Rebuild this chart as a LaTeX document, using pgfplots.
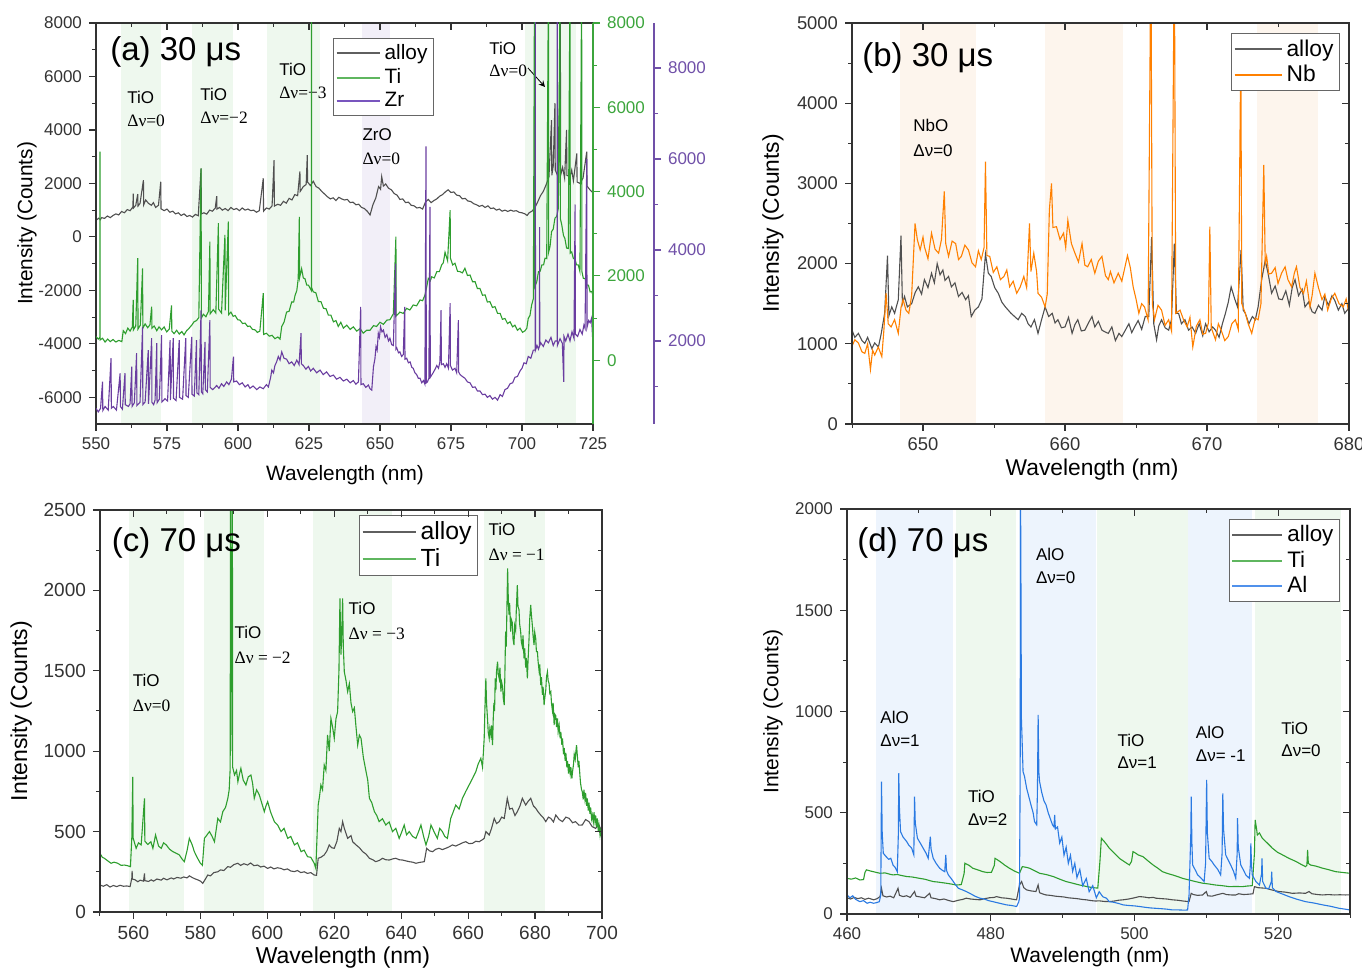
\documentclass[border=0pt]{standalone}
\usepackage{fontspec}
\setmainfont{Liberation Sans}
\newfontfamily\seriffont{Liberation Serif}
\usepackage{pgfplots}
\pgfplotsset{compat=1.18}

\definecolor{alloyc}{RGB}{80,80,80}
\definecolor{legal0}{RGB}{95,95,95}
\definecolor{tic}{RGB}{46,158,46}
\definecolor{legti}{RGB}{95,182,95}
\definecolor{zrc}{RGB}{106,61,160}
\definecolor{legzr}{RGB}{120,85,190}
\definecolor{nbc}{RGB}{255,128,0}
\definecolor{alc}{RGB}{42,122,226}
\definecolor{legal}{RGB}{80,145,235}
\definecolor{bandg}{RGB}{238,248,238}
\definecolor{bandp}{RGB}{242,239,248}
\definecolor{bando}{RGB}{253,245,237}
\definecolor{bandb}{RGB}{237,244,253}
\definecolor{axc}{RGB}{50,50,50}
\definecolor{gax}{RGB}{60,165,60}
\definecolor{pax}{RGB}{112,80,168}

\pgfplotsset{
  panel/.style={
    scale only axis, axis on top, clip=true, anchor=south west,
    tick align=outside, xtick pos=left, ytick pos=left,
    major tick length=3.5pt, minor tick length=2pt,
    axis line style={axc, line width=0.6pt},
    every tick/.append style={axc, line width=0.6pt},
    every minor tick/.append style={axc, line width=0.5pt},
    scaled ticks=false,
    /pgf/number format/assume math mode=true,
    /pgf/number format/1000 sep={},
    tick label style={text=black!80},
    legend cell align=left,
    legend style={draw=black!60, line width=0.6pt, fill=white, inner sep=1pt, row sep=-1pt},
  },
  raxis/.style={
    scale only axis, clip=false, anchor=south west,
    axis x line=none, axis y line*=right, ytick pos=right, yticklabel pos=right,
    tick align=outside, major tick length=3.5pt, minor tick length=2pt,
    scaled ticks=false,
    /pgf/number format/assume math mode=true,
    /pgf/number format/1000 sep={},
    y axis line style={#1, line width=0.8pt},
    every tick/.append style={#1, line width=0.6pt},
    every minor tick/.append style={#1, line width=0.5pt},
    yticklabel style={text=#1, font=\fontsize{8.5}{10}\selectfont},
  },
  mirror/.style={
    scale only axis, anchor=south west, tick align=inside, xtick pos=right, ytick pos=right,
    xticklabels={}, yticklabels={}, major tick length=3.5pt, minor tick length=2pt,
    axis line style={draw=none},
    every tick/.append style={axc, line width=0.6pt},
    every minor tick/.append style={axc, line width=0.5pt},
  },
  posA/.style={at={(48pt,272.5pt)}, width=248.5pt, height=200.5pt, xmin=550, xmax=725},
  posB/.style={at={(426pt,272.5pt)}, width=248.5pt, height=200.5pt, xmin=645, xmax=680, ymin=0, ymax=5000},
  posC/.style={at={(50pt,28.5pt)}, width=251pt, height=201pt, xmin=550, xmax=700, ymin=0, ymax=2500},
  posD/.style={at={(423.5pt,27.5pt)}, width=251.5pt, height=202.5pt, xmin=460, xmax=530, ymin=0, ymax=2000},
  dat/.style={line width=0.55pt},
  lim/.style={legend image code/.code={\draw[##1, line width=1pt] (0pt,0pt) -- (#1,0pt);}},
}
\newcommand{\ttl}[2]{\node[anchor=west, inner sep=0pt, font=\fontsize{16.5}{19}\selectfont] at (rel axis cs:#1) {#2};}
\newcommand{\anS}[4]{\node[anchor=west, inner sep=0pt, font=\fontsize{8.5}{10}\selectfont] at (axis cs:#1,#2) {#4};}
\newcommand{\anR}[4]{\node[anchor=west, inner sep=0pt, font=\fontsize{8.7}{10}\seriffont] at (axis cs:#1,#2) {#4};}

\begin{document}
\begin{tikzpicture}
\useasboundingbox (0,0) rectangle (681pt,484.5pt);

%================ (a) =================
\begin{axis}[panel, posA, ymin=-7000, ymax=8000,
  xtick={550,575,...,725}, minor xtick={562.5,587.5,...,712.5},
  ytick={-6000,-4000,...,8000}, minor ytick={-5000,-3000,...,7000},
  tick label style={font=\fontsize{8.5}{10}\selectfont},
  label style={font=\fontsize{10.4}{12}\selectfont},
  xlabel={Wavelength (nm)}, ylabel={Intensity (Counts)},
  xlabel style={at={(axis description cs:0.501,-0.127)}, anchor=center},
  ylabel style={at={(axis description cs:-0.139,0.5)}, anchor=center}]
\fill[bandg] (axis cs:558.8,-7000) rectangle (axis cs:573,8000);
\fill[bandg] (axis cs:583.7,-7000) rectangle (axis cs:598.3,8000);
\fill[bandg] (axis cs:610.3,-7000) rectangle (axis cs:629,8000);
\fill[bandp] (axis cs:643.6,-7000) rectangle (axis cs:653.6,8000);
\fill[bandg] (axis cs:701.2,-7000) rectangle (axis cs:719,8000);
\addplot[dat, alloyc] coordinates {(550,620) (551,700) (551.5,640) (552,720) (553,690) (554,780) (555,720) (556,800) (557,860) (558,820) (559,950) (560,900) (561,1020) (562,980) (563,1120) (563.1,1620) (563.2,1080) (564,1180) (564.7,1600) (564.8,1150) (565.5,1250) (566.7,2120) (566.8,1200) (567.5,1380) (568.5,1250) (569.5,1180) (570.2,1280) (571,1100) (572,1180) (572.8,2060) (572.9,1050) (574,980) (575,1040) (576,920) (577,960) (578,860) (579,900) (580,800) (581,860) (582,760) (583,800) (584,740) (585,840) (586,790) (587,2560) (587.1,860) (588,900) (589,850) (590,1000) (591,960) (592,1080) (592.5,1520) (592.6,1040) (593.5,1100) (594.5,1000) (595.5,1060) (596.5,980) (597.5,1100) (598.5,1020) (599.5,1060) (600.5,980) (601.5,1080) (602.5,1000) (603.5,1040) (604.5,980) (605.5,1000) (606.5,920) (607.5,980) (608.9,2190) (609,960) (610,1080) (611,1040) (612,1160) (612.7,2870) (612.8,1150) (614,1220) (615,1180) (616,1330) (617,1260) (618,1440) (619,1380) (620,1580) (621,1540) (621.8,2450) (621.9,1700) (623,1880) (624,1960) (624.4,3060) (624.5,2050) (625.5,1920) (626.5,2080) (627.5,1880) (628.5,1820) (629.5,1700) (630.5,1600) (631.5,1500) (632.5,1420) (633.5,1460) (634.5,1360) (635.5,1480) (636.5,1420) (637.5,1380) (638.5,1400) (639.5,1280) (640.5,1300) (641.5,1200) (642.5,1220) (643.5,1100) (644.5,1060) (645.5,960) (646.5,820) (647.5,1200) (648.5,1450) (649.5,1880) (650.2,1780) (650.6,2250) (651.2,1900) (652,1980) (653,1820) (654,1760) (655,1620) (656,1560) (657,1400) (658,1420) (659,1280) (660,1300) (661,1180) (662,1160) (663,1080) (664,1100) (665,1040) (666,1300) (667,1400) (668,1280) (669,1360) (670,1420) (671,1520) (672,1580) (673,1680) (674,1760) (675,1660) (676,1680) (677,1560) (678,1540) (679,1420) (680,1440) (681,1340) (682,1320) (683,1240) (684,1200) (685,1140) (686,1180) (687,1100) (688,1160) (689,1060) (690,1080) (691,1000) (692,1040) (693,960) (694,1000) (695,950) (696,1000) (697,960) (698,980) (699,920) (700,900) (701,860) (701.8,800) (702.5,900) (703.5,960) (704.5,1080) (705.5,1300) (706.5,1540) (707.5,1700) (708.5,1950) (709.5,2250) (710.4,4370) (710.5,2300) (711,2650) (711.6,5000) (711.7,2500) (712.5,2300) (712.8,4120) (712.9,2450) (713.5,8500) (713.6,2300) (714.3,2600) (715,2200) (715.7,4000) (715.8,2300) (716.9,2250) (717.5,2500) (718.1,2100) (719.3,3120) (719.4,2050) (720.4,2000) (721.5,2200) (722.8,3190) (722.9,1900) (724,1750) (725,1650)};
\ttl{0.028,0.928}{(a) 30 μs}
\anS{560.9}{5232}{}{TiO} \anR{560.9}{4334}{}{Δν=0}
\anS{586.6}{5344}{}{TiO} \anR{586.6}{4446}{}{Δν=−2}
\anS{614.4}{6279}{}{TiO} \anR{614.4}{5381}{}{Δν=−3}
\anS{643.7}{3810}{}{ZrO} \anR{643.7}{2912}{}{Δν=0}
\anS{688.4}{7065}{}{TiO} \anR{688.4}{6204}{}{Δν=0}
\draw[-stealth, line width=0.4pt] (axis cs:702.1,6317) -- (axis cs:708.1,5606);
\end{axis}
\begin{axis}[mirror, posA, ymin=-7000, ymax=8000, xtick={550,575,...,725}, minor xtick={562.5,587.5,...,712.5}, ytick=\empty]
\end{axis}
% green data
\begin{axis}[scale only axis, anchor=south west, posA, ymin=-1514, ymax=8000, hide axis, clip=true]
\addplot[dat, tic] coordinates {(550,560) (550.8,500) (551.35,540) (551.4,4950) (551.45,480) (552.3,520) (553.2,430) (554.1,500) (555,440) (556,490) (557,430) (558,470) (559.1,440) (559.6,700) (560.4,630) (561.2,760) (562,690) (562.8,790) (563.1,1430) (563.2,720) (564,810) (564.7,2420) (564.8,740) (565.6,830) (566.4,2180) (566.5,760) (567.3,860) (568.2,770) (569,840) (569.6,1270) (569.7,760) (570.5,810) (571.4,700) (572.2,790) (573.1,720) (574,790) (574.9,670) (575.8,740) (576.6,1300) (576.7,690) (577.5,630) (578.4,710) (579.3,620) (580.2,680) (581,600) (581.9,700) (582.8,760) (583.7,830) (584.5,910) (585.4,940) (586.2,1010) (587,4550) (587.1,1000) (587.8,1090) (588.7,1030) (589.6,1160) (590.1,2810) (590.2,1100) (591.3,1200) (592.2,1120) (593.1,3250) (593.2,1210) (594.2,1120) (595.4,2970) (595.5,1180) (596.6,3290) (596.7,1080) (597.5,1140) (598.3,1040) (599,1060) (599.9,960) (600.7,950) (601.6,870) (602.5,880) (603.4,800) (604.2,810) (605.1,730) (606,720) (606.8,660) (607.7,690) (608.9,1590) (609,610) (610,640) (611,570) (612,590) (613,510) (614,550) (614.8,500) (615.4,800) (616.2,900) (617.1,1140) (618,1160) (618.9,1380) (619.6,1380) (620.1,1540) (620.7,1650) (621.2,1930) (621.6,3400) (621.7,1960) (622.4,2170) (623,1950) (623.6,1930) (624.2,1780) (624.8,1780) (625.85,1650) (625.9,9000) (625.95,1720) (626.5,1620) (627.4,1600) (628.3,1390) (629.2,1390) (630.1,1230) (631,1220) (631.8,1070) (632.7,1070) (633.6,910) (634.5,940) (635.3,800) (636.2,900) (637.1,760) (638.3,830) (639.5,730) (640.6,790) (641.8,690) (643,750) (644.1,640) (645.3,710) (646.5,710) (647.7,820) (648.8,800) (650,900) (651.2,850) (652.4,950) (653.5,960) (654.7,1100) (655.6,2930) (655.7,1050) (657,1140) (658.2,1110) (659.4,1230) (660.5,1190) (661.7,1310) (662.9,1290) (664.1,1430) (665,1410) (665.8,1540) (666.4,1720) (667,1940) (667.7,1880) (668.2,1980) (669.1,1950) (670,2100) (670.9,2100) (671.7,2260) (672.3,2310) (672.9,2560) (673.8,2360) (674.7,3560) (674.8,2420) (675.6,2260) (676.4,2300) (677.3,2110) (678.2,2100) (679,2070) (679.9,2180) (680.8,2010) (681.7,2020) (682.6,1860) (683.5,1860) (684.3,1700) (685.2,1700) (686.1,1540) (687,1550) (687.8,1380) (688.7,1390) (689.6,1250) (690.5,1270) (691.4,1110) (692.3,1110) (693.1,970) (694,990) (694.9,870) (695.8,910) (696.7,790) (697.5,830) (698.4,710) (699.3,760) (700.2,660) (701.1,700) (701.7,760) (702.2,990) (702.8,1060) (703.4,1310) (704,1460) (704.4,9000) (704.5,1740) (705.2,1860) (705.8,2100) (706.4,2110) (707,2260) (707.6,2260) (708.1,2420) (708.7,2410) (709.3,9000) (709.4,2570) (709.9,2710) (710.4,3050) (711,3110) (711.6,3370) (712.2,3410) (712.8,3600) (713.4,9000) (713.5,3360) (714,3210) (714.6,2960) (715.1,2890) (715.7,2660) (716.3,2650) (716.9,9000) (717,2540) (717.5,2570) (718.1,2410) (718.6,2420) (719.2,2260) (719.8,2260) (720.4,2100) (721,9000) (721.1,2100) (721.6,1940) (722.2,1940) (722.8,1780) (723.4,1780) (724,1620) (724.5,1630) (725,1550)};
\end{axis}
% purple data + legend
\begin{axis}[panel, posA, ymin=175, ymax=8990, hide axis, lim=21.5pt,
  legend style={at={(0.477,0.963)}, anchor=north west, font=\fontsize{10.4}{12}\selectfont}]
\addplot[dat, zrc, forget plot] coordinates {(550,520) (550.8,440) (551.6,520) (552.3,1105) (552.4,470) (553.2,560) (554.3,480) (555.3,1620) (555.4,520) (556.1,560) (557.2,480) (558.5,1290) (558.6,560) (559.3,500) (560.2,1290) (560.3,600) (561.4,560) (562,620) (562.6,1435) (562.7,560) (563.5,640) (564.3,1730) (564.4,580) (565.5,650) (566.4,2310) (566.5,600) (567.3,660) (568.4,1800) (568.5,620) (569.6,2060) (569.7,650) (570.3,600) (570.8,700) (571.4,1950) (571.5,640) (572.3,720) (573.1,2130) (573.2,660) (574.3,730) (575.2,680) (576.1,2020) (576.2,700) (577.2,2060) (577.3,740) (578.2,690) (579.3,2020) (579.4,760) (580.5,720) (581.6,2060) (581.7,800) (582.5,760) (583.7,2090) (583.8,830) (584.6,790) (585.4,2020) (585.5,860) (586.2,820) (587,2680) (587.1,880) (587.6,840) (588.4,1980) (588.5,930) (589.2,880) (590.1,2460) (590.2,980) (591.1,930) (592.5,1020) (593.3,960) (594.2,1060) (595,1000) (596,1100) (596.8,1040) (597.7,1160) (598.4,1655) (598.5,1100) (599.5,1120) (600.5,1040) (601.5,1080) (602.5,990) (603.5,1040) (604.2,960) (605.3,1010) (606.6,930) (607.7,990) (608.9,950) (610,1040) (610.7,990) (611.5,1200) (611.9,1360) (612.5,1300) (613,1460) (613.6,1540) (614.2,1660) (614.8,1580) (615.4,1760) (616.2,1620) (617.1,1600) (618,1500) (618.9,1540) (619.8,1460) (620.7,1580) (621.5,1480) (622.2,2170) (622.3,1500) (623,1460) (623.9,1380) (624.8,1440) (625.6,1340) (626.5,1400) (627.7,1300) (628.9,1360) (630,1260) (631.2,1320) (632.4,1220) (633.6,1250) (634.7,1160) (635.9,1200) (637.1,1120) (638.3,1160) (639.5,1080) (640.6,1130) (641.5,1050) (642.4,1100) (643.2,2750) (643.3,1040) (644.1,1060) (645,980) (645.9,1030) (646.5,950) (647.1,920) (647.7,1435) (648.2,1600) (648.6,1875) (649,1800) (649.4,2170) (649.8,2080) (650.2,2310) (650.7,2200) (651.2,2240) (651.8,2080) (652.4,2140) (653,2000) (653.5,2060) (654.1,1920) (654.7,1900) (655.5,3700) (655.6,1820) (655.9,1850) (656.5,1740) (657,1760) (657.6,1660) (658.2,1700) (658.7,2750) (658.8,1600) (659.4,1620) (660,1520) (660.6,1540) (661.2,1420) (661.7,1400) (662.3,1300) (662.9,1260) (663.5,1180) (664.1,1180) (664.7,1080) (665.3,1130) (665.8,1050) (666.2,6280) (666.3,1080) (666.7,1100) (667.2,1180) (667.6,4950) (667.7,1200) (668.2,1250) (668.8,1310) (669.4,1380) (670,1460) (670.6,1400) (671.1,1540) (671.5,2680) (671.6,1480) (672.3,1500) (672.9,1420) (673.5,1500) (674.1,1400) (674.7,2830) (674.8,1460) (675.5,1360) (676.4,1400) (677,1300) (677.6,2460) (677.7,1320) (678.2,1260) (679,1220) (679.9,1180) (680.8,1100) (681.7,1080) (682.6,980) (683.5,990) (684.3,900) (685.2,900) (686.1,820) (687,830) (687.8,760) (688.7,800) (689.6,720) (690.5,760) (691.4,700) (692.3,820) (693.1,780) (694,930) (694.9,960) (695.8,1060) (696.7,1080) (697.5,1200) (698.4,1220) (699.3,1340) (700,1400) (700.7,1520) (701.5,1500) (702.2,1660) (703.1,1620) (704,1800) (704.65,1800) (704.7,9500) (704.75,1800) (705.3,1900) (705.8,1820) (706.15,1900) (706.2,4500) (706.25,1900) (706.6,1960) (707.5,1880) (708.4,2020) (709.3,1960) (710.2,2080) (711,1900) (711.7,2000) (712.35,2000) (712.4,9500) (712.45,1900) (713.4,2050) (714.2,1950) (714.7,1100) (714.8,2100) (715.4,2000) (716.2,2150) (716.9,2000) (717.6,2200) (718.3,2060) (718.7,5000) (718.8,2150) (719.6,2100) (720.4,2250) (721.2,2150) (721.8,2350) (722.2,2280) (722.8,6000) (722.9,2300) (723.5,2450) (724,2400) (724.5,2500) (725,1900)};
\addlegendimage{legal0}\addlegendentry{alloy}
\addlegendimage{legti}\addlegendentry{Ti}
\addlegendimage{legzr}\addlegendentry{Zr}
\end{axis}
% green axis (right edge)
\begin{axis}[raxis=gax, posA, ymin=-1514, ymax=8000,
  ytick={0,2000,...,8000}, minor ytick={1000,3000,5000,7000}]
\end{axis}
% purple axis (offset)
\begin{axis}[raxis=pax, at={(78.5pt,272.5pt)}, width=248.5pt, height=200.5pt, xmin=550, xmax=725,
  ymin=175, ymax=8990,
  ytick={2000,4000,6000,8000}, minor ytick={1000,3000,5000,7000,9000}]
\end{axis}

%================ (b) =================
\begin{axis}[panel, posB, lim=23.5pt,
  xtick={650,660,670,680}, minor xtick={645,655,665,675},
  ytick={0,1000,...,5000}, minor ytick={500,1500,...,4500},
  tick label style={font=\fontsize{9.2}{11}\selectfont},
  label style={font=\fontsize{11.4}{13}\selectfont},
  xlabel={Wavelength (nm)}, ylabel={Intensity (Counts)},
  xlabel style={at={(axis description cs:0.483,-0.115)}, anchor=center},
  ylabel style={at={(axis description cs:-0.159,0.5)}, anchor=center},
  legend style={at={(0.982,0.975)}, anchor=north east, font=\fontsize{11.4}{13}\selectfont}]
\fill[bando] (axis cs:648.4,0) rectangle (axis cs:653.7,5000);
\fill[bando] (axis cs:658.6,0) rectangle (axis cs:664.1,5000);
\fill[bando] (axis cs:673.5,0) rectangle (axis cs:677.8,5000);
\addplot[dat, alloyc, forget plot] coordinates {(645,1170) (645.2,1080) (645.45,1130) (645.7,1040) (645.9,1005) (646.1,1080) (646.4,940) (646.6,1010) (646.86,960) (647.05,1120) (647.3,1380) (647.5,2100) (647.6,1350) (647.8,1460) (648,1380) (648.26,1550) (648.45,2350) (648.55,1500) (648.7,1590) (648.9,1460) (649.2,1500) (649.45,1640) (649.67,1710) (649.9,1620) (650.1,1800) (650.35,1700) (650.6,1880) (650.8,1760) (651,2000) (651.2,1860) (651.4,1920) (651.55,1790) (651.8,1840) (652,1710) (652.25,1760) (652.5,1590) (652.75,1640) (653,1550) (653.2,1600) (653.4,1340) (653.65,1420) (653.9,1460) (654.15,1560) (654.4,2120) (654.6,1880) (654.8,1840) (655.05,1700) (655.3,1630) (655.55,1520) (655.8,1460) (656,1420) (656.2,1380) (656.45,1340) (656.7,1300) (656.95,1380) (657.2,1340) (657.4,1250) (657.6,1210) (657.85,1300) (658.1,1130) (658.35,1300) (658.6,1460) (658.85,1340) (659.1,1380) (659.3,1260) (659.5,1300) (659.75,1200) (660,1210) (660.25,1330) (660.5,1130) (660.7,1240) (660.9,1300) (661.15,1160) (661.4,1170) (661.65,1260) (661.9,1340) (662.1,1210) (662.35,1280) (662.6,1170) (662.8,1150) (663.05,1130) (663.3,1210) (663.55,1040) (663.8,1130) (664,1090) (664.25,1170) (664.5,1250) (664.7,1140) (664.9,1210) (665.15,1290) (665.4,1180) (665.65,1340) (665.9,1340) (666.1,2330) (666.25,1250) (666.45,1050) (666.6,1220) (666.8,1300) (667.05,1200) (667.3,1170) (667.5,1300) (667.7,2250) (667.85,1380) (668,1380) (668.2,1250) (668.45,1300) (668.7,1170) (668.95,1210) (669.2,1130) (669.45,1250) (669.7,1100) (669.9,1250) (670.15,1150) (670.4,1210) (670.6,1170) (670.85,1080) (671.1,1260) (671.3,1380) (671.5,1520) (671.7,1710) (671.95,1560) (672.15,1460) (672.4,2170) (672.55,1420) (672.7,1380) (672.95,1250) (673.2,1340) (673.4,1300) (673.6,1460) (673.85,1800) (674.1,2040) (674.3,1880) (674.55,1630) (674.8,1720) (675.05,1560) (675.3,1550) (675.55,1660) (675.8,1480) (676,1700) (676.2,1800) (676.45,1600) (676.7,1680) (676.9,1460) (677.15,1520) (677.4,1400) (677.6,1380) (677.85,1480) (678.1,1420) (678.3,1590) (678.55,1480) (678.8,1600) (679,1540) (679.25,1420) (679.5,1500) (679.7,1380) (680,1450)};
\addplot[dat, nbc, forget plot] coordinates {(645,970) (645.2,1050) (645.45,1010) (645.7,900) (645.9,880) (646.1,1000) (646.3,680) (646.45,920) (646.6,860) (646.85,960) (647.1,840) (647.25,1180) (647.4,1630) (647.55,1250) (647.75,1210) (648,1300) (648.26,1130) (648.45,1450) (648.6,1550) (648.8,1420) (649,1380) (649.2,1600) (649.44,2500) (649.6,2300) (649.8,2170) (650,2330) (650.1,2210) (650.35,2060) (650.6,2380) (650.85,2180) (651.1,2130) (651.3,2300) (651.5,2900) (651.6,2250) (651.8,2090) (652.05,2280) (652.3,2250) (652.5,2050) (652.7,2090) (652.95,2230) (653.2,2170) (653.45,2010) (653.7,1960) (653.9,2160) (654.1,2050) (654.3,2200) (654.4,3270) (654.5,2100) (654.7,2090) (654.95,1890) (655.2,1960) (655.45,1800) (655.7,1840) (655.9,1920) (656.1,1710) (656.35,1780) (656.6,1630) (656.85,1710) (657.1,1840) (657.3,1700) (657.5,2500) (657.6,1900) (657.8,2130) (658,1900) (658.1,1630) (658.35,1580) (658.6,1460) (658.75,1620) (658.9,2670) (659.05,3000) (659.15,2450) (659.4,2460) (659.65,2300) (659.9,2380) (660.05,2200) (660.2,2540) (660.45,2250) (660.7,2130) (660.95,2020) (661.2,2250) (661.4,1980) (661.6,1960) (661.85,2050) (662.1,1880) (662.35,2030) (662.6,2090) (662.85,1850) (663.05,1800) (663.2,1900) (663.45,1760) (663.75,1880) (664,1780) (664.4,2100) (664.6,1950) (664.8,1710) (665,1560) (665.2,1380) (665.4,1500) (665.6,1460) (665.85,1300) (666.05,6000) (666.15,1500) (666.3,1300) (666.55,1480) (666.8,1420) (667.05,1230) (667.3,1300) (667.5,1160) (667.7,6000) (667.8,1380) (668.1,1420) (668.35,1300) (668.6,1210) (668.8,1330) (669,960) (669.25,1220) (669.5,1300) (669.7,1120) (669.9,1130) (670.1,1260) (670.2,2460) (670.3,1200) (670.6,1050) (670.8,1250) (671,1170) (671.25,1040) (671.5,1090) (671.75,1250) (672,1300) (672.2,1180) (672.38,4700) (672.45,1500) (672.7,1380) (672.9,1250) (673.15,1130) (673.4,1320) (673.6,1300) (673.8,1500) (674,3230) (674.1,2000) (674.2,2090) (674.35,1870) (674.55,1880) (674.8,1950) (675,1750) (675.25,1880) (675.5,1960) (675.7,1800) (675.96,1710) (676.15,1880) (676.3,1960) (676.55,1700) (676.8,1630) (677,1780) (677.25,1460) (677.4,1600) (677.6,1880) (677.85,1700) (678.1,1550) (678.3,1620) (678.5,1420) (678.75,1560) (679,1630) (679.3,1500) (679.6,1460) (679.8,1560) (680,1380)};
\addlegendimage{legal0}\addlegendentry{alloy}
\addlegendimage{nbc}\addlegendentry{Nb}
\ttl{0.02,0.913}{(b) 30 μs}
\anS{649.3}{3728}{}{NbO} \anS{649.3}{3404}{}{Δν=0}
\end{axis}
\begin{axis}[mirror, posB, xtick={650,660,670,680}, minor xtick={645,655,665,675}, ytick={0,1000,...,5000}, minor ytick={500,1500,...,4500}]
\end{axis}

%================ (c) =================
\begin{axis}[panel, posC, lim=26.5pt,
  xtick={560,580,...,700}, minor xtick={550,570,...,690},
  ytick={0,500,...,2500}, minor ytick={250,750,...,2250},
  tick label style={font=\fontsize{9.5}{11}\selectfont},
  label style={font=\fontsize{11.5}{13}\selectfont},
  xlabel={Wavelength (nm)}, ylabel={Intensity (Counts)},
  xlabel style={at={(axis description cs:0.484,-0.114)}, anchor=center},
  ylabel style={at={(axis description cs:-0.157,0.5)}, anchor=center},
  legend style={at={(0.516,0.988)}, anchor=north west, font=\fontsize{12.4}{14}\selectfont}]
\fill[bandg] (axis cs:558.8,0) rectangle (axis cs:575.2,2500);
\fill[bandg] (axis cs:581.2,0) rectangle (axis cs:598.9,2500);
\fill[bandg] (axis cs:613.7,0) rectangle (axis cs:637.4,2500);
\fill[bandg] (axis cs:664.8,0) rectangle (axis cs:683.1,2500);
\addplot[dat, alloyc, forget plot] coordinates {(550,168) (551,160) (552,170) (553,155) (554,165) (555,158) (556,166) (557,160) (558,162) (559,158) (559.5,210) (559.6,255) (559.7,205) (560.5,200) (561.3,188) (562,198) (563,192) (563.3,240) (563.4,195) (564.5,190) (565.3,200) (566,192) (567,205) (568.3,198) (569,210) (570,200) (571.3,212) (572,205) (573,215) (574.2,210) (575,218) (576,212) (576.7,225) (577.5,215) (578.5,205) (579.2,200) (580,192) (580.7,178) (581.5,205) (582.2,230) (583,225) (584,245) (585.2,250) (586,262) (587,258) (588.2,282) (589,278) (590,295) (591.2,303) (592,290) (593,300) (594.1,292) (595,305) (596,288) (597.1,292) (598,280) (599,285) (600.1,271) (601,280) (602,268) (603,275) (604.1,271) (605,262) (606,268) (607,255) (608.1,251) (609,258) (610,245) (611,250) (612,240) (613,245) (614,230) (614.7,228) (615.2,334) (616,340) (617,355) (617.8,380) (618.5,417) (619.2,400) (620,396) (620.8,440) (621.5,520) (622,500) (622.5,562) (623,520) (624,458) (625,475) (625.5,437) (626.5,417) (627.5,400) (628.5,375) (629.5,360) (630.5,334) (631.5,325) (632.4,313) (633.4,320) (634.4,334) (635.4,325) (636.4,323) (637.4,330) (638.4,334) (639.4,325) (640.4,323) (641.4,318) (642.4,313) (643.4,310) (644.4,303) (645.4,308) (646.9,313) (647.6,396) (648.5,380) (649.4,375) (650.3,390) (651.3,396) (652.3,388) (653.3,396) (654.3,405) (655.3,417) (656.3,410) (657.3,420) (658.3,430) (659.3,437) (660.3,425) (661.3,427) (662.3,440) (663.3,437) (664.3,450) (664.8,458) (665.3,500) (666.3,479) (667,520) (667.8,582) (668.5,550) (669.3,562) (670,590) (670.8,582) (671.7,707) (672.4,640) (673.2,645) (674,600) (674.7,624) (675.5,660) (676.2,707) (677.2,665) (678,690) (678.7,707) (679.5,660) (680.2,645) (681,620) (681.7,603) (682.5,585) (683.2,562) (684,590) (684.7,582) (685.5,560) (686.2,603) (687.2,575) (688.2,562) (689.2,590) (690.2,582) (691.2,555) (692.1,562) (693.1,540) (694.1,541) (695.1,575) (696.1,562) (697.1,530) (698.1,520) (699,545) (700,500)};
\addplot[dat, tic, forget plot] coordinates {(550,365) (550.7,340) (551.3,334) (552.2,320) (553.3,303) (554.2,310) (555.3,303) (556.3,290) (557.3,292) (558.2,288) (559.1,282) (559.5,458) (559.8,841) (559.9,460) (560.8,396) (561.5,430) (562.3,417) (563.3,707) (563.4,440) (564.3,420) (565.2,437) (565.8,396) (566.6,479) (567.5,410) (568.3,396) (569,430) (569.8,417) (570.8,390) (571.8,375) (572.8,365) (573.7,355) (574.5,330) (575.2,313) (576,380) (576.7,458) (577.5,420) (578.2,375) (579,340) (580,303) (580.6,290) (581.2,458) (582,480) (582.7,500) (583.5,470) (584.2,437) (585.2,582) (586,560) (586.7,624) (587.5,650) (588.2,707) (588.6,760) (588.9,893) (589.0,2600) (589.1,1000) (589.55,2600) (589.65,900) (590.2,852) (590.8,880) (591.2,810) (591.7,860) (592.1,893) (592.8,820) (593.6,790) (594.3,840) (595.1,852) (595.6,800) (596.1,707) (596.8,760) (597.6,728) (598.3,680) (599.1,624) (599.6,660) (600.1,686) (601,620) (602.1,562) (603.1,540) (604.1,500) (605,520) (606.1,458) (607,470) (608.1,417) (609,430) (610.1,375) (611,385) (612,344) (613,340) (614,303) (614.5,271) (615.2,665) (615.6,720) (616,790) (616.5,760) (617,914) (617.5,880) (618,1101) (618.5,1000) (619,1204) (619.5,1150) (620,1080) (620.5,1200) (621,1246) (621.4,1500) (621.7,1951) (622,1600) (622.2,1702) (622.5,1951) (622.7,1650) (623,1494) (623.5,1440) (624,1370) (624.5,1420) (625,1300) (625.5,1246) (626,1270) (626.5,1150) (627,1038) (627.5,1100) (628,1080) (628.7,960) (629.5,873) (630,820) (630.5,707) (631.2,680) (632,624) (632.7,600) (633.4,562) (634.4,580) (635.4,541) (636.4,560) (637.4,500) (638.4,520) (639.4,458) (640.2,500) (640.9,541) (641.6,480) (642.4,500) (643.4,470) (644.4,458) (645.2,500) (645.9,541) (646.7,470) (647.4,417) (648.2,470) (648.9,541) (649.8,500) (650.8,458) (651.5,520) (652.3,500) (653,470) (653.8,458) (654.8,582) (655.5,620) (656.3,665) (657.3,640) (658.3,707) (659.3,750) (660.3,790) (661.3,830) (662.3,873) (663,920) (663.8,956) (664.3,900) (664.8,1080) (665.0,1250) (665.3,1453) (665.5,1300) (665.8,1200) (666.0,1120) (666.3,1080) (666.5,1140) (666.8,1100) (667.0,1160) (667.3,1038) (667.5,1200) (667.7,1300) (667.9,1250) (668.1,1453) (668.3,1380) (668.5,1500) (668.8,1557) (669.0,1480) (669.3,1450) (669.5,1520) (669.8,1370) (670.0,1430) (670.3,1400) (670.5,1330) (670.8,1287) (671.0,1500) (671.2,1743) (671.4,1650) (671.6,1900) (671.8,2137) (672.0,1950) (672.2,1850) (672.4,1920) (672.7,1743) (672.9,1820) (673.2,1800) (673.4,1700) (673.7,1660) (673.9,1780) (674.2,1750) (674.4,1880) (674.7,2033) (674.9,1900) (675.2,1880) (675.4,1790) (675.7,1743) (675.9,1680) (676.2,1650) (676.4,1720) (676.7,1577) (676.9,1640) (677.2,1520) (677.4,1580) (677.7,1453) (677.9,1560) (678.2,1700) (678.4,1820) (678.7,1909) (678.9,1850) (679.2,1780) (679.4,1720) (679.7,1660) (679.9,1740) (680.2,1700) (680.4,1620) (680.7,1619) (680.9,1560) (681.2,1500) (681.4,1540) (681.7,1411) (681.9,1460) (682.2,1350) (682.4,1400) (682.7,1287) (682.9,1330) (683.2,1380) (683.4,1460) (683.7,1494) (683.9,1440) (684.2,1420) (684.4,1360) (684.7,1370) (684.9,1300) (685.2,1250) (685.4,1300) (685.7,1163) (685.9,1230) (686.2,1220) (686.4,1150) (686.7,1204) (686.9,1120) (687.2,1160) (687.5,1080) (687.7,1120) (688.0,1040) (688.2,1080) (688.5,980) (688.7,1020) (689.0,940) (689.2,990) (689.5,900) (689.7,940) (690.0,860) (690.2,920) (690.5,860) (690.7,900) (691.0,830) (691.2,873) (691.5,920) (691.7,980) (692.0,950) (692.2,1000) (692.4,1038) (692.6,980) (692.9,900) (693.1,940) (693.4,850) (693.6,800) (693.9,760) (694.1,748) (694.4,700) (694.6,760) (694.9,700) (695.1,740) (695.4,660) (695.6,707) (695.9,630) (696.1,680) (696.4,610) (696.6,650) (696.9,580) (697.1,603) (697.4,560) (697.6,620) (697.9,560) (698.1,600) (698.4,530) (698.6,582) (698.9,500) (699.1,540) (699.4,480) (699.6,520) (699.8,470) (700,560)};
\addlegendimage{legal0}\addlegendentry{alloy}
\addlegendimage{legti}\addlegendentry{Ti}
\ttl{0.023,0.918}{(c) 70 μs}
\anS{559.7}{1443}{}{TiO} \anR{559.7}{1281}{}{Δν=0}
\anS{590.1}{1741}{}{TiO} \anR{590.1}{1580}{}{Δν = −2}
\anS{624.2}{1891}{}{TiO} \anR{624.2}{1729}{}{Δν = −3}
\anS{666}{2382}{}{TiO} \anR{666}{2220}{}{Δν = −1}
\end{axis}
\begin{axis}[mirror, posC, xtick={560,580,...,700}, minor xtick={550,570,...,690}, ytick={0,500,...,2500}, minor ytick={250,750,...,2250}]
\end{axis}

%================ (d) =================
\begin{axis}[panel, posD, lim=25pt,
  xtick={460,480,...,520}, minor xtick={470,490,...,530},
  ytick={0,500,...,2000}, minor ytick={250,750,...,1750},
  tick label style={font=\fontsize{8.5}{10}\selectfont},
  label style={font=\fontsize{10.5}{12}\selectfont},
  xlabel={Wavelength (nm)}, ylabel={Intensity (Counts)},
  xlabel style={at={(axis description cs:0.483,-0.106)}, anchor=center},
  ylabel style={at={(axis description cs:-0.147,0.5)}, anchor=center},
  legend style={at={(0.759,0.975)}, anchor=north west, font=\fontsize{11.2}{13}\selectfont}]
\fill[bandb] (axis cs:464.0,0) rectangle (axis cs:474.7,2000);
\fill[bandg] (axis cs:475.2,0) rectangle (axis cs:483.5,2000);
\fill[bandb] (axis cs:483.9,0) rectangle (axis cs:494.7,2000);
\fill[bandg] (axis cs:494.8,0) rectangle (axis cs:507.5,2000);
\fill[bandb] (axis cs:507.5,0) rectangle (axis cs:516.3,2000);
\fill[bandg] (axis cs:516.8,0) rectangle (axis cs:528.8,2000);
\addplot[dat, alloyc, forget plot] coordinates {(460,80) (460.5,74) (461,82) (461.5,76) (462,80) (462.5,72) (463,78) (463.7,70) (464.2,76) (464.6,86) (464.8,127) (465,90) (465.5,84) (466,88) (466.5,80) (467.1,127) (467.3,92) (467.8,86) (468.3,90) (468.8,82) (469.4,111) (469.6,88) (470.2,84) (470.8,80) (471.5,102) (471.7,80) (472.3,76) (472.9,70) (473.5,74) (474.2,66) (474.8,61) (475.5,68) (476.1,72) (476.6,78) (477.2,74) (477.8,72) (478.5,70) (479.2,76) (479.8,80) (480.5,82) (480.8,86) (481.5,80) (482.2,78) (482.9,74) (483.6,70) (484,143) (484.3,160) (484.6,130) (485,119) (485.6,114) (486.3,111) (486.6,143) (486.8,105) (487.3,98) (487.7,94) (488.3,92) (489,88) (489.6,86) (490.2,84) (490.8,80) (491.4,78) (492,76) (492.7,72) (493.3,70) (494,66) (494.6,64) (495.1,65) (495.8,62) (496.5,61) (497.2,64) (497.8,68) (498.4,70) (499.2,74) (500,80) (500.7,86) (501.3,84) (502,80) (502.6,82) (503,78) (503.7,76) (504.5,74) (505.3,70) (506,68) (506.8,64) (507.6,61) (507.9,102) (508.2,96) (508.8,92) (509.5,94) (510,111) (510.2,90) (510.8,88) (511.5,95) (512.3,102) (512.8,96) (513.5,94) (514.1,94) (514.5,100) (515.2,96) (516,98) (516.5,100) (516.7,135) (517.2,130) (518.3,127) (519.2,118) (520.1,111) (521,108) (522,102) (523,104) (523.8,102) (524.3,111) (524.7,100) (525.5,96) (526.2,94) (527,96) (527.8,94) (528.6,95) (529.4,94) (530,95)};
\addplot[dat, tic, forget plot] coordinates {(460,176) (460.6,172) (461.2,178) (461.8,168) (462.3,170) (462.5,205) (462.7,218) (463.3,212) (464,206) (464.6,201) (465.3,203) (466,196) (466.4,193) (467,195) (467.6,190) (468.3,185) (469,183) (469.5,180) (470.1,176) (470.8,172) (471.4,166) (472,160) (472.6,158) (473.2,155) (473.8,152) (474.5,148) (475.2,143) (475.9,145) (476.3,200) (476.4,251) (477,240) (477.5,226) (478.2,218) (478.9,209) (479.5,205) (480.1,206) (480.5,240) (480.6,275) (481.3,259) (482,240) (482.6,226) (483.3,212) (484,201) (484.4,234) (485,230) (485.4,226) (486.1,214) (486.8,201) (487.7,195) (488.7,185) (489.6,172) (490.5,160) (491.4,152) (492.4,143) (493.3,136) (494.2,130) (494.9,128) (495.2,260) (495.4,374) (495.8,358) (496.2,340) (496.5,325) (497.2,300) (497.9,275) (498.6,258) (499.3,242) (499.6,260) (499.8,308) (500.2,300) (500.5,292) (501.2,283) (501.9,262) (502.6,242) (503.3,225) (503.9,209) (504.6,200) (505.3,193) (506,185) (506.7,176) (507.6,168) (508.5,160) (509.5,152) (510.4,148) (511.3,143) (512.2,140) (513.2,135) (514.1,136) (515,135) (515.7,138) (516.4,140) (516.7,300) (516.8,465) (517,420) (517.1,390) (517.4,400) (517.8,374) (518.5,350) (519.2,325) (519.9,305) (520.6,292) (521.5,275) (522.5,259) (523.2,245) (523.8,234) (524,240) (524.1,316) (524.2,250) (524.5,242) (525.3,236) (526.2,226) (527.1,218) (528,209) (529,205) (530,201)};
\addplot[dat, alc, forget plot] coordinates {(460,94) (460.4,80) (460.8,90) (461.2,72) (461.8,61) (462.3,66) (462.8,53) (463.2,58) (463.7,53) (464.1,56) (464.5,61) (464.7,94) (464.8,654) (464.9,400) (465.05,300) (465.4,285) (465.8,270) (466.1,275) (466.4,242) (466.7,230) (467,209) (467.15,400) (467.2,695) (467.3,520) (467.45,407) (467.8,380) (468.3,358) (468.6,340) (469,325) (469.3,292) (469.4,580) (469.5,450) (469.8,374) (470.2,350) (470.6,325) (471,300) (471.3,275) (471.6,382) (471.7,320) (472,275) (472.4,250) (472.9,226) (473.3,215) (473.6,209) (473.75,292) (473.85,215) (474.1,193) (474.5,175) (474.8,160) (475.2,140) (475.5,127) (476,120) (476.6,111) (477.2,100) (477.8,88) (478.5,78) (479.1,74) (479.7,66) (480.3,61) (481,55) (481.6,50) (482.2,45) (482.9,42) (483.6,37) (483.9,60) (484,78) (484.1,700) (484.15,2100) (484.22,1526) (484.27,967) (484.35,880) (484.5,703) (484.7,680) (485,621) (485.3,580) (485.6,539) (485.9,500) (486.1,456) (486.4,440) (486.5,600) (486.6,983) (486.7,700) (486.8,654) (487.1,600) (487.4,560) (487.7,539) (488,500) (488.3,470) (488.6,440) (488.8,430) (488.9,489) (489.0,420) (489.3,430) (489.6,350) (489.9,380) (490.2,290) (490.5,330) (490.8,250) (491.1,290) (491.4,210) (491.7,250) (492,180) (492.4,220) (492.8,140) (493.3,175) (493.7,110) (494.2,140) (494.7,80) (495.1,110) (495.6,85) (496.1,78) (496.5,61) (497.1,58) (497.8,52) (498.4,45) (499.2,42) (500,40) (500.7,37) (501.5,33) (502.2,30) (503,28) (503.8,26) (504.5,24) (505.3,20) (506.2,20) (507,19) (507.4,20) (507.6,94) (507.85,400) (507.9,580) (508,350) (508.1,242) (508.5,215) (508.8,193) (509.2,180) (509.7,160) (509.9,250) (510.05,662) (510.15,400) (510.4,275) (510.8,258) (511.1,242) (511.6,220) (512,193) (512.2,300) (512.3,596) (512.4,420) (512.7,292) (513,270) (513.4,242) (513.8,210) (514.1,176) (514.3,300) (514.35,473) (514.45,330) (514.8,242) (515.2,215) (515.5,193) (516,176) (516.15,250) (516.2,349) (516.3,240) (516.4,193) (516.9,160) (517.4,143) (517.7,200) (517.75,275) (517.85,160) (518.3,127) (518.7,125) (519.05,160) (519.1,209) (519.2,130) (519.7,111) (520.5,100) (521.5,86) (522.5,74) (523.8,61) (525,54) (526.2,45) (527.3,38) (528.5,28) (529.3,24) (530,20)};
\addlegendimage{legal0}\addlegendentry{alloy}
\addlegendimage{legti}\addlegendentry{Ti}
\addlegendimage{legal}\addlegendentry{Al}
\ttl{0.02,0.916}{(d) 70 μs}
\anS{464.6}{973}{}{AlO} \anS{464.6}{854}{}{Δν=1}
\anS{476.8}{583}{}{TiO} \anS{476.8}{464}{}{Δν=2}
\anS{486.25}{1778}{}{AlO} \anS{486.25}{1659}{}{Δν=0}
\anS{497.6}{859}{}{TiO} \anS{497.6}{746}{}{Δν=1}
\anS{508.5}{899}{}{AlO} \anS{508.5}{780}{}{Δν= -1}
\anS{520.4}{918}{}{TiO} \anS{520.4}{805}{}{Δν=0}
\end{axis}
\begin{axis}[mirror, posD, xtick={460,480,...,520}, minor xtick={470,490,...,530}, ytick={0,500,...,2000}, minor ytick={250,750,...,1750}]
\end{axis}
\end{tikzpicture}
\end{document}
